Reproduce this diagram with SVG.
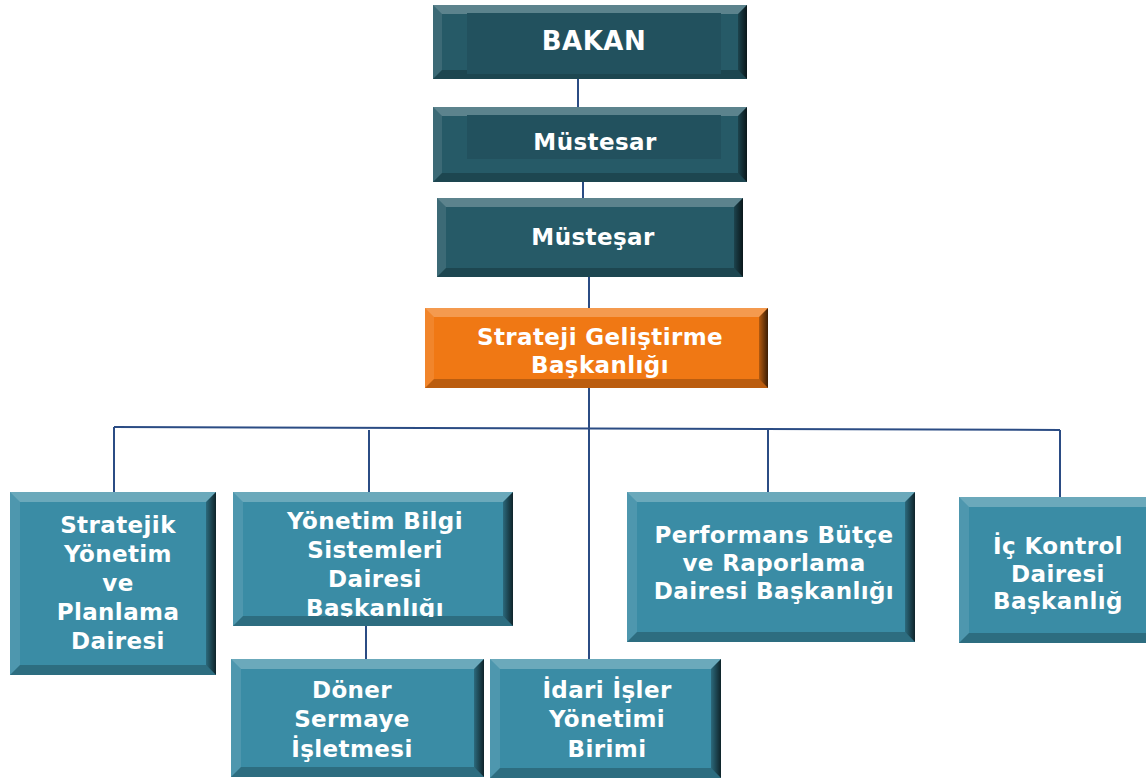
<svg xmlns="http://www.w3.org/2000/svg" width="1146" height="782" viewBox="0 0 1146 782">
<style>
.dark{fill:#265a67}
.panel{fill:#22515e}
.teal{fill:#3a8ca5}
.orange{fill:#f07814}
.bt{fill:#ffffff;fill-opacity:.25}
.bl{fill:#ffffff;fill-opacity:.1}
.bb{fill:#000000;fill-opacity:.22}
.br{fill:url(#rg)}
.t{font-family:"DejaVu Sans","Verdana",sans-serif;font-weight:bold;fill:#ffffff;text-anchor:middle;font-size:23px;letter-spacing:0.4px}
.c{stroke:#2b4c84;stroke-width:2;fill:none}
</style>
<defs>
<linearGradient id="rg" x1="0" y1="0" x2="1" y2="0">
<stop offset="0" stop-color="#000" stop-opacity=".25"/>
<stop offset="1" stop-color="#000" stop-opacity=".75"/>
</linearGradient>
<clipPath id="cp2"><rect x="233" y="492" width="280" height="125"/></clipPath>
</defs>
<rect width="1146" height="782" fill="#ffffff"/>
<g id="connectors">
<line class="c" x1="578" y1="79" x2="578" y2="107"/>
<line class="c" x1="583" y1="182" x2="583" y2="198"/>
<line class="c" x1="589" y1="272" x2="589" y2="308"/>
<line class="c" x1="589" y1="388" x2="589" y2="662"/>
<line class="c" x1="114" y1="427" x2="1060" y2="430"/>
<line class="c" x1="114" y1="427" x2="114" y2="492"/>
<line class="c" x1="369" y1="430" x2="369" y2="492"/>
<line class="c" x1="768" y1="429" x2="768" y2="492"/>
<line class="c" x1="1060" y1="430" x2="1060" y2="497"/>
<line class="c" x1="366" y1="620" x2="366" y2="662"/>
</g>
<g id="bakan">
<rect class="dark" x="433" y="5" width="314" height="74"/>
<polygon class="bt" points="433,5 747,5 738,14 442,14"/>
<polygon class="bl" points="433,5 442,14 442,70 433,79"/>
<polygon class="bb" points="433,79 442,70 738,70 747,79"/>
<polygon class="br" points="747,5 747,79 738,70 738,14"/>
<rect class="panel" x="467" y="13" width="254" height="61"/>
<text class="t" x="594" y="50" style="font-size:26px;letter-spacing:0.5px">BAKAN</text>
</g>
<g id="mustesar1">
<rect class="dark" x="433" y="107" width="314" height="75"/>
<polygon class="bt" points="433,107 747,107 738,116 442,116"/>
<polygon class="bl" points="433,107 442,116 442,173 433,182"/>
<polygon class="bb" points="433,182 442,173 738,173 747,182"/>
<polygon class="br" points="747,107 747,182 738,173 738,116"/>
<rect class="panel" x="467" y="115" width="254" height="44"/>
<text class="t" x="595" y="150">Müstesar</text>
</g>
<g id="mustesar2">
<rect class="dark" x="437" y="198" width="306" height="79"/>
<polygon class="bt" points="437,198 743,198 734,207 446,207"/>
<polygon class="bl" points="437,198 446,207 446,268 437,277"/>
<polygon class="bb" points="437,277 446,268 734,268 743,277"/>
<polygon class="br" points="743,198 743,277 734,268 734,207"/>
<text class="t" x="593" y="245">Müsteşar</text>
</g>
<g id="strateji">
<rect class="orange" x="425" y="308" width="343" height="80"/>
<polygon class="bt" points="425,308 768,308 759,317 434,317"/>
<polygon class="bl" points="425,308 434,317 434,379 425,388"/>
<polygon class="bb" points="425,388 434,379 759,379 768,388"/>
<polygon class="br" points="768,308 768,388 759,379 759,317"/>
<text class="t" x="600" y="345">Strateji Geliştirme</text>
<text class="t" x="600" y="373">Başkanlığı</text>
</g>
<g id="stratejik">
<rect class="teal" x="10" y="492" width="206" height="183"/>
<polygon class="bt" points="10,492 216,492 206,502 20,502"/>
<polygon class="bl" points="10,492 20,502 20,665 10,675"/>
<polygon class="bb" points="10,675 20,665 206,665 216,675"/>
<polygon class="br" points="216,492 216,675 206,665 206,502"/>
<text class="t" x="118" y="533">Stratejik</text>
<text class="t" x="118" y="562">Yönetim</text>
<text class="t" x="118" y="591">ve</text>
<text class="t" x="118" y="620">Planlama</text>
<text class="t" x="118" y="649">Dairesi</text>
</g>
<g id="ybs">
<rect class="teal" x="233" y="492" width="280" height="134"/>
<polygon class="bt" points="233,492 513,492 503,502 243,502"/>
<polygon class="bl" points="233,492 243,502 243,616 233,626"/>
<polygon class="bb" points="233,626 243,616 503,616 513,626"/>
<polygon class="br" points="513,492 513,626 503,616 503,502"/>
<g clip-path="url(#cp2)">
<text class="t" x="375" y="529">Yönetim Bilgi</text>
<text class="t" x="375" y="558">Sistemleri</text>
<text class="t" x="375" y="587">Dairesi</text>
<text class="t" x="375" y="616">Başkanlığı</text>
</g>
</g>
<g id="doner">
<rect class="teal" x="231" y="659" width="253" height="118"/>
<polygon class="bt" points="231,659 484,659 474,669 241,669"/>
<polygon class="bl" points="231,659 241,669 241,767 231,777"/>
<polygon class="bb" points="231,777 241,767 474,767 484,777"/>
<polygon class="br" points="484,659 484,777 474,767 474,669"/>
<text class="t" x="352" y="698">Döner</text>
<text class="t" x="352" y="727">Sermaye</text>
<text class="t" x="352" y="757">İşletmesi</text>
</g>
<g id="idari">
<rect class="teal" x="490" y="659" width="231" height="119"/>
<polygon class="bt" points="490,659 721,659 711,669 500,669"/>
<polygon class="bl" points="490,659 500,669 500,768 490,778"/>
<polygon class="bb" points="490,778 500,768 711,768 721,778"/>
<polygon class="br" points="721,659 721,778 711,768 711,669"/>
<text class="t" x="607" y="698">İdari İşler</text>
<text class="t" x="607" y="727">Yönetimi</text>
<text class="t" x="607" y="757">Birimi</text>
</g>
<g id="performans">
<rect class="teal" x="627" y="492" width="288" height="150"/>
<polygon class="bt" points="627,492 915,492 905,502 637,502"/>
<polygon class="bl" points="627,492 637,502 637,632 627,642"/>
<polygon class="bb" points="627,642 637,632 905,632 915,642"/>
<polygon class="br" points="915,492 915,642 905,632 905,502"/>
<text class="t" x="774" y="543">Performans Bütçe</text>
<text class="t" x="774" y="571">ve Raporlama</text>
<text class="t" x="774" y="599">Dairesi Başkanlığı</text>
</g>
<g id="ickontrol">
<rect class="teal" x="959" y="497" width="200" height="146"/>
<polygon class="bt" points="959,497 1159,497 1149,507 969,507"/>
<polygon class="bl" points="959,497 969,507 969,633 959,643"/>
<polygon class="bb" points="959,643 969,633 1149,633 1159,643"/>
<text class="t" x="1058" y="554">İç Kontrol</text>
<text class="t" x="1058" y="582">Dairesi</text>
<text class="t" x="1058" y="609">Başkanlığ</text>
</g>
</svg>
